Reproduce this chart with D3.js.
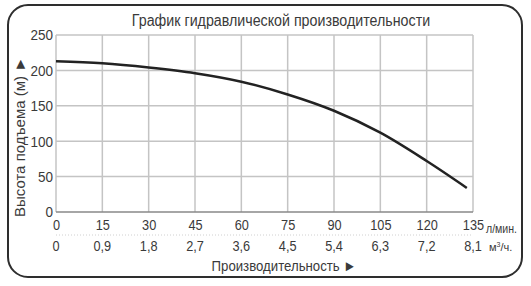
<!DOCTYPE html>
<html>
<head>
<meta charset="utf-8">
<script src="https://cdn.jsdelivr.net/npm/d3@7"></script>
<style>
  body { margin: 0; background: #fff; }
  text { font-family: "Liberation Sans", Arial, sans-serif; fill: #3a3a3a; }
</style>
</head>
<body>
<div id="chart"></div>
<script>
// flow in l/min, head in m
var flow = [0, 15, 30, 45, 60, 75, 90, 105, 120, 133];
var head = [213, 210, 204, 196, 184, 166, 143, 112, 72, 34];
var xTicks = [0, 15, 30, 45, 60, 75, 90, 105, 120, 135];
var xTicks2 = ["0", "0,9", "1,8", "2,7", "3,6", "4,5", "5,4", "6,3", "7,2", "8,1"];
var yTicks = [0, 50, 100, 150, 200, 250];

var W = 531, H = 286;
var margin = {top: 35, right: 58, bottom: 74, left: 56},
    width = W - margin.left - margin.right,
    height = H - margin.top - margin.bottom;

// squeeze text horizontally, the original uses a narrow font
function narrow(sel, k) {
    sel.each(function() {
        var len = this.getComputedTextLength();
        d3.select(this)
            .attr("textLength", len * k)
            .attr("lengthAdjust", "spacingAndGlyphs");
    });
}

var svg = d3.select("#chart").append("svg")
    .attr("width", W)
    .attr("height", H);

// frame
svg.append("rect")
    .attr("x", 8).attr("y", 5)
    .attr("width", 514).attr("height", 272)
    .attr("rx", 20).attr("ry", 20)
    .attr("fill", "none")
    .attr("stroke", "#2e2e2e")
    .attr("stroke-width", 2);

var g = svg.append("g")
    .attr("transform", "translate(" + margin.left + "," + margin.top + ")");

var x = d3.scaleLinear().domain([0, 135]).range([0, width]);
var y = d3.scaleLinear().domain([0, 250]).range([height, 0]);

// grid
g.append("g").selectAll("line").data(xTicks)
    .enter().append("line")
    .attr("x1", d => x(d)).attr("x2", d => x(d))
    .attr("y1", 0).attr("y2", height)
    .attr("stroke", "#c4c4c4")
    .attr("stroke-width", 1.5);
g.append("g").selectAll("line").data(yTicks)
    .enter().append("line")
    .attr("x1", 0).attr("x2", width)
    .attr("y1", d => y(d)).attr("y2", d => y(d))
    .attr("stroke", d => d == 0 ? "#888" : "#c4c4c4")
    .attr("stroke-width", 1.5);

// y axis labels
var yAxis = d3.axisLeft(y).tickValues(yTicks).tickSize(0).tickPadding(3);
g.append("g").call(yAxis)
    .call(a => a.select(".domain").remove())
    .selectAll("text")
    .style("font-size", "15px")
    .attr("fill", "#3a3a3a")
    .call(narrow, 0.9);

// x axis labels, row 1 (l/min)
var xAxis = d3.axisBottom(x).tickValues(xTicks).tickSize(0).tickPadding(7);
g.append("g")
    .attr("transform", "translate(0," + height + ")")
    .call(xAxis)
    .call(a => a.select(".domain").remove())
    .selectAll("text")
    .style("font-size", "15px")
    .attr("fill", "#3a3a3a")
    .call(narrow, 0.85);

// separator between rows
g.append("line")
    .attr("x1", 0).attr("x2", width)
    .attr("y1", height + 23).attr("y2", height + 23)
    .attr("stroke", "#d0d0d0")
    .attr("stroke-dasharray", "1,2");

// x axis labels, row 2 (m3/h)
g.append("g").selectAll("text").data(xTicks)
    .enter().append("text")
    .attr("x", d => x(d))
    .attr("y", height + 39)
    .attr("text-anchor", "middle")
    .style("font-size", "15px")
    .text((d, i) => xTicks2[i])
    .call(narrow, 0.85);

// units
g.append("text")
    .attr("x", width + 13).attr("y", height + 21)
    .style("font-size", "12px")
    .text("л/мин.")
    .call(narrow, 0.88);
g.append("text")
    .attr("x", width + 16).attr("y", height + 39)
    .style("font-size", "11px")
    .html("м<tspan dy='-4' style='font-size:7px'>3</tspan><tspan dy='4'>/ч.</tspan>");

// curve
var pts = flow.map((f, i) => [f, head[i]]);
var line = d3.line()
    .x(d => x(d[0]))
    .y(d => y(d[1]))
    .curve(d3.curveCatmullRom.alpha(0.5));
g.append("path")
    .datum(pts)
    .attr("d", line)
    .attr("fill", "none")
    .attr("stroke", "#222")
    .attr("stroke-width", 2.5);

// title
svg.append("text")
    .attr("x", 281).attr("y", 26)
    .attr("text-anchor", "middle")
    .style("font-size", "16px")
    .text("График гидравлической производительности")
    .call(narrow, 0.89);

// y axis title
svg.append("text")
    .attr("transform", "translate(25,137) rotate(-90)")
    .attr("text-anchor", "middle")
    .style("font-size", "15px")
    .text("Высота подъема (м) ►");

// x axis title
svg.append("text")
    .attr("x", 284).attr("y", 271)
    .attr("text-anchor", "middle")
    .style("font-size", "15px")
    .text("Производительность ►")
    .call(narrow, 0.88);
</script>
</body>
</html>
